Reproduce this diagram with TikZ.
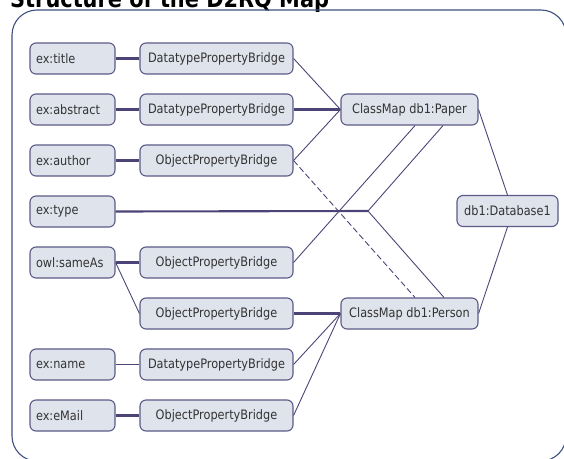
\documentclass[tikz,border=0pt]{standalone}
\usepackage{fontspec}
\setmainfont[FakeStretch=0.87]{DejaVu Sans}
\definecolor{boxfill}{HTML}{DFE3EC}
\definecolor{boxline}{HTML}{5B5A86}
\definecolor{link}{HTML}{4B4577}
\definecolor{frameline}{HTML}{3E5080}
\definecolor{txt}{HTML}{333333}
\begin{document}
\begin{tikzpicture}[x=1pt, y=-1pt,
        box/.style={draw=boxline, fill=boxfill, line width=1.1pt, rounded corners=6pt,
            minimum height=31pt, text=txt, font=\fontsize{13}{15}\selectfont},
        prop/.style={box, text width=73pt, align=left, inner xsep=6pt},
        bridge/.style={box, minimum width=153pt},
        classmap/.style={box, minimum width=137pt},
        thickline/.style={draw=link, line width=2.1pt},
        thinline/.style={draw=link, line width=0.9pt}]
    \useasboundingbox (0,0) rectangle (564,458);
    \clip (0,0) rectangle (564,458);
    \node[anchor=base west, font=\bfseries\fontsize{24}{26}\selectfont, text=black, inner sep=0pt]
        (heading) at (10,7) {Structure of the D2RQ Map};
    \draw[frameline, line width=1.1pt, rounded corners=25pt] (12,10) rectangle (566,461);
    % properties and bridges, one row every 51pt
    \foreach \r/\n/\t in {1/title/ex:title, 2/abstract/ex:abstract, 3/author/ex:author,
            4/type/ex:type, 5/sameas/owl:sameAs, 7/name/ex:name, 8/email/ex:eMail} {
        \node[prop] (\n) at (72.5, 7.5 + 51*\r) {\t};
    }
    \foreach \r/\t in {1/Datatype, 2/Datatype, 3/Object, 5/Object, 6/Object, 7/Datatype, 8/Object} {
        \node[bridge] (b\r) at (216.5, 7.5 + 51*\r) {\t PropertyBridge};
    }
    \node[classmap] (paper) at (409.5, 109.5) {ClassMap db1:Paper};
    \node[classmap] (person) at (409.5, 313.5) {ClassMap db1:Person};
    \node[box, minimum width=101pt] (db) at (507.5, 211) {db1:Database1};
    \coordinate (fork) at (368, 211);
    % connectors
    \draw[thickline] (title) -- (b1);
    \draw[thickline] (abstract) -- (b2);
    \draw[thickline] (author) -- (b3);
    \draw[thickline] (sameas) -- (b5);
    \draw[thinline] (name) -- (b7);
    \draw[thickline] (email) -- (b8);
    \draw[thinline] (sameas.east) -- (b6.west);
    \draw[thickline] (type.east) -- (fork);
    \draw[thinline] (fork) -- ([xshift=33.5pt]paper.south);
    \draw[thinline] (fork) -- ([xshift=34.5pt]person.north);
    \draw[thinline] (b1.east) -- (paper.west);
    \draw[thickline] (b2) -- (paper);
    \draw[thinline] (b3.east) -- (paper.west);
    \draw[thinline, dash pattern=on 6pt off 3pt] (b3.east) -- ([xshift=5.5pt]person.north);
    \draw[thinline] (b5.east) -- ([xshift=5.5pt]paper.south);
    \draw[thickline] (b6) -- (person);
    \draw[thinline] (b7.east) -- (person.west);
    \draw[thinline] (b8.east) -- (person.west);
    \draw[thinline] (paper.east) -- (db.north);
    \draw[thinline] (person.east) -- (db.south);
\end{tikzpicture}
\end{document}
